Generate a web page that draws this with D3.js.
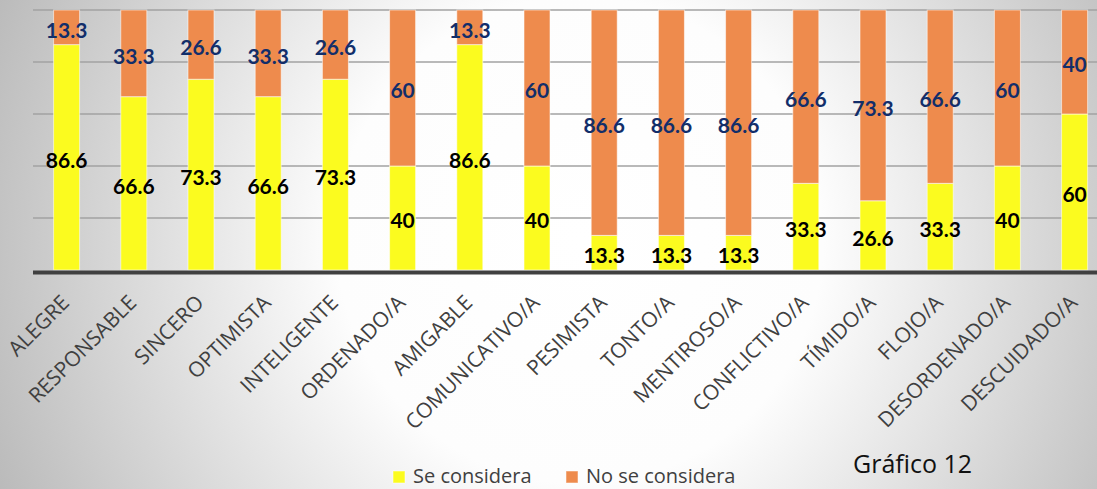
<!DOCTYPE html>
<html>
<head>
<meta charset="utf-8">
<script src="https://cdn.jsdelivr.net/npm/d3@7"></script>
<style>
  html, body { margin: 0; padding: 0; overflow: hidden; }
  svg { display: block; }
</style>
</head>
<body>
<div id="chart"></div>
<script>
// categories and percentages
var categories = ["ALEGRE", "RESPONSABLE", "SINCERO", "OPTIMISTA", "INTELIGENTE", "ORDENADO/A",
  "AMIGABLE", "COMUNICATIVO/A", "PESIMISTA", "TONTO/A", "MENTIROSO/A", "CONFLICTIVO/A",
  "TÍMIDO/A", "FLOJO/A", "DESORDENADO/A", "DESCUIDADO/A"];
var seConsidera   = [86.6, 66.6, 73.3, 66.6, 73.3, 40, 86.6, 40, 13.3, 13.3, 13.3, 33.3, 26.6, 33.3, 40, 60];
var noSeConsidera = [13.3, 33.3, 26.6, 33.3, 26.6, 60, 13.3, 60, 86.6, 86.6, 86.6, 66.6, 73.3, 66.6, 60, 40];
var seriesNames = ["Se considera", "No se considera"];
var gridTicks = [0.2, 0.4, 0.6, 0.8, 1];

var width = 1097, height = 489;
var colors = ["#FBFB1F", "#EE8B4D"],
    labelCols = ["#000000", "#122E6A"];

var svg = d3.select("#chart").append("svg")
    .attr("width", width)
    .attr("height", height);

// background: soft radial gradient, white in the middle, grey at the edges
var grad = svg.append("defs").append("radialGradient")
    .attr("id", "bg")
    .attr("gradientUnits", "userSpaceOnUse")
    .attr("cx", 580).attr("cy", 240).attr("r", 640);
grad.append("stop").attr("offset", 0).attr("stop-color", "#ffffff");
grad.append("stop").attr("offset", 0.38).attr("stop-color", "#fdfdfd");
grad.append("stop").attr("offset", 1).attr("stop-color", "#b9b9b9");

svg.append("rect")
    .attr("width", width).attr("height", height)
    .attr("fill", "url(#bg)");

var rows = categories.map(function(c, i) {
  return { cat: c, si: seConsidera[i], no: noSeConsidera[i] };
});

var x = d3.scaleBand()
    .domain(categories)
    .range([33, 33 + 67.2 * categories.length])
    .paddingInner(0.613)
    .paddingOuter(0.3065);

var y = d3.scaleLinear().domain([0, 1]).range([270, 10]);

// gridlines
svg.append("g").selectAll("line")
  .data(gridTicks)
  .join("line")
    .attr("x1", 33).attr("x2", width)
    .attr("y1", function(d) { return y(d); })
    .attr("y2", function(d) { return y(d); })
    .attr("stroke", "#a2a2a2")
    .attr("stroke-width", 1.3);

var stack = d3.stack().keys(["si", "no"]).offset(d3.stackOffsetExpand);
var layers = stack(rows);

var g = svg.append("g").selectAll("g")
  .data(layers)
  .join("g")
    .attr("fill", function(d, i) { return colors[i]; });

g.selectAll("rect")
  .data(function(d) { return d; })
  .join("rect")
    .attr("x", function(d) { return x(d.data.cat); })
    .attr("width", x.bandwidth())
    .attr("y", function(d) { return y(d[1]); })
    .attr("height", function(d) { return y(d[0]) - y(d[1]); })
    .attr("stroke", "rgba(255,255,255,0.55)")
    .attr("stroke-width", 1);

// data labels
layers.forEach(function(layer, li) {
  svg.append("g").selectAll("text")
    .data(layer)
    .join("text")
      .attr("x", function(d) { return x(d.data.cat) + x.bandwidth() / 2; })
      .attr("y", function(d) { return (y(d[0]) + y(d[1])) / 2 + 3; })
      .attr("dy", "0.35em")
      .attr("text-anchor", "middle")
      .attr("font-family", "Lato, sans-serif")
      .attr("font-weight", 700)
      .attr("font-size", 21)
      .attr("fill", labelCols[li])
      .text(function(d) { return d.data[layer.key]; });
});

// x axis, labels turned 45 degrees, baseline end just right of the bar centre
var xAxis = svg.append("g")
    .attr("transform", "translate(0,272)")
    .call(d3.axisBottom(x).tickSize(0));
xAxis.select(".domain").remove();
xAxis.selectAll("text")
    .attr("font-family", "'Open Sans', sans-serif")
    .attr("font-size", 21)
    .attr("fill", "#404040")
    .attr("text-anchor", "end")
    .attr("y", 0)
    .attr("dy", 0)
    .attr("transform", "translate(4,32) rotate(-45)");

svg.append("line")
    .attr("x1", 33).attr("x2", width)
    .attr("y1", 272.5).attr("y2", 272.5)
    .attr("stroke", "#404040")
    .attr("stroke-width", 4);

// legend
var legendX = [393, 566];
var legend = svg.append("g").selectAll("g")
  .data(seriesNames)
  .join("g")
    .attr("transform", function(d, i) { return "translate(" + legendX[i] + ",471)"; });
legend.append("rect")
    .attr("width", 12).attr("height", 12)
    .attr("fill", function(d, i) { return colors[i]; })
    .attr("stroke", "rgba(255,255,255,0.5)");
legend.append("text")
    .attr("x", 20).attr("y", 12)
    .attr("font-family", "'Open Sans', sans-serif")
    .attr("font-size", 20)
    .attr("fill", "#404040")
    .text(function(d) { return d; });

svg.append("text")
    .attr("x", 853).attr("y", 473)
    .attr("font-family", "'Open Sans', sans-serif")
    .attr("font-size", 25)
    .attr("fill", "#111")
    .text("Gráfico 12");
</script>
</body>
</html>
